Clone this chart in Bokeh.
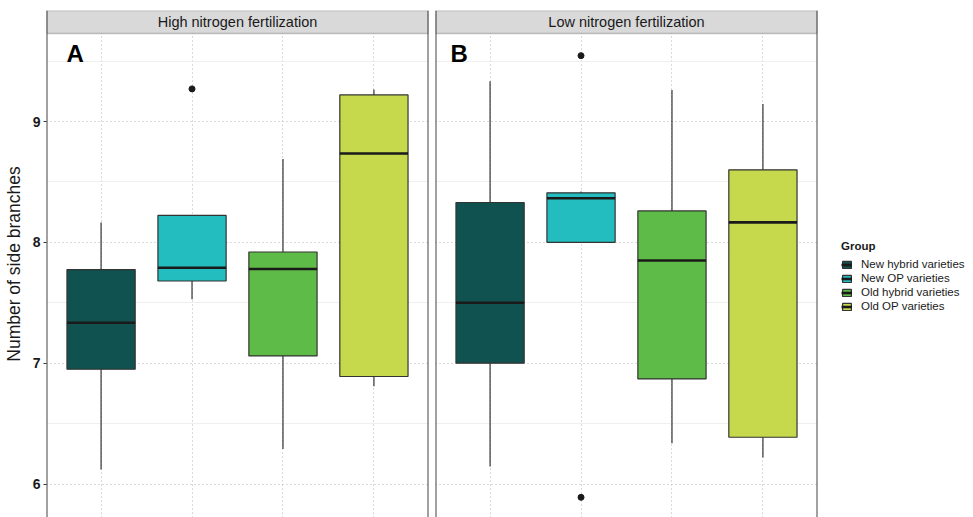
from bokeh.plotting import figure
from bokeh.models import (Range1d, FactorRange, FixedTicker, BoxAnnotation, Label,
                          Legend, LegendItem, ColumnDataSource, Span)
from bokeh.transform import dodge
from bokeh.layouts import row
from bokeh.embed import file_html
from bokeh.resources import INLINE

# ---------------- data ----------------
groups = ["New hybrid varieties", "New OP varieties", "Old hybrid varieties", "Old OP varieties"]
colors = ["#10524F", "#23BDBF", "#5FBB47", "#C6D94C"]

# High nitrogen fertilization (panel A)
high_lo = [6.12, 7.53, 6.29, 6.81]
high_q1 = [6.95, 7.68, 7.06, 6.89]
high_med = [7.335, 7.79, 7.78, 8.735]
high_q3 = [7.775, 8.223, 7.92, 9.22]
high_hi = [8.165, 8.223, 8.69, 9.265]
high_out_group = ["New OP varieties"]
high_out_val = [9.27]

# Low nitrogen fertilization (panel B)
low_lo = [6.145, 8.0, 6.337, 6.22]
low_q1 = [7.0, 8.0, 6.87, 6.387]
low_med = [7.50, 8.365, 7.85, 8.165]
low_q3 = [8.33, 8.41, 8.26, 8.60]
low_hi = [9.333, 8.42, 9.26, 9.145]
low_out_group = ["New OP varieties", "New OP varieties"]
low_out_val = [9.545, 5.89]

y_ticks = [6, 7, 8, 9]
y_minor = [5.5, 6.5, 7.5, 8.5, 9.5]

FONT = "Liberation Sans"
Y_START, Y_END = 5.723, 9.9187
STRIP_BOTTOM = 9.728
BOX_W = 0.75
PAD = 0.1
BORDER = "#444444"


def make_panel(title, letter, letter_x, lo, q1, med, q3, hi, out_g, out_v, first):
    p = figure(
        x_range=FactorRange(factors=groups, range_padding=PAD, range_padding_units="absolute"),
        y_range=Range1d(Y_START, Y_END),
        frame_width=382, frame_height=507,
        output_backend="svg", toolbar_location=None,
        min_border_left=40 if first else 5,
        min_border_right=2 if first else 146,
        min_border_top=10, min_border_bottom=0,
        background_fill_color="white", border_fill_color="white",
    )
    p.outline_line_color = None

    # grids
    p.xaxis.visible = False
    p.xgrid.grid_line_color = "#B5B5B5"
    p.xgrid.grid_line_dash = "1 3"
    p.xgrid.grid_line_width = 1
    p.yaxis.ticker = FixedTicker(ticks=y_ticks, minor_ticks=y_minor)
    p.ygrid.grid_line_color = "#B5B5B5"
    p.ygrid.grid_line_dash = "1 3"
    p.ygrid.grid_line_width = 1
    p.ygrid.minor_grid_line_color = "#EFEFEF"
    p.ygrid.minor_grid_line_width = 1

    if first:
        ax = p.yaxis[0]
        ax.axis_line_color = None
        ax.major_tick_out = 3
        ax.major_tick_in = 0
        ax.major_tick_line_color = "#333333"
        ax.minor_tick_out = 0
        ax.minor_tick_in = 0
        ax.major_label_text_font = FONT
        ax.major_label_text_font_size = "14px"
        ax.major_label_text_font_style = "bold"
        ax.major_label_text_color = "#1A1A1A"
        ax.major_label_standoff = 3
        ax.axis_label = "Number of side branches"
        ax.axis_label_text_font = FONT
        ax.axis_label_text_font_size = "17.5px"
        ax.axis_label_text_font_style = "normal"
        ax.axis_label_text_color = "#1A1A1A"
        ax.axis_label_standoff = 6
    else:
        p.yaxis.visible = False

    src = ColumnDataSource(dict(g=groups, lo=lo, q1=q1, med=med, q3=q3, hi=hi, color=colors))

    # whiskers
    p.segment(x0="g", y0="q3", x1="g", y1="hi", source=src, line_color="#333333", line_width=1.2)
    p.segment(x0="g", y0="lo", x1="g", y1="q1", source=src, line_color="#333333", line_width=1.2)
    # boxes
    box_r = p.vbar(x="g", width=BOX_W, bottom="q1", top="q3", source=src,
                   fill_color="color", line_color="#333333", line_width=1.2)
    # medians
    med_r = p.segment(x0=dodge("g", -BOX_W / 2, range=p.x_range), y0="med",
                      x1=dodge("g", BOX_W / 2, range=p.x_range), y1="med",
                      source=src, line_color="#1A1A1A", line_width=2.6)
    # outliers
    p.scatter(x=out_g, y=out_v, size=6, color="#1A1A1A")

    # strip
    p.add_layout(BoxAnnotation(bottom=STRIP_BOTTOM, fill_color="#D9D9D9", fill_alpha=1,
                               line_color=BORDER, line_width=1.6, level="underlay"))
    p.add_layout(Label(x=len(groups) / 2, y=(STRIP_BOTTOM + Y_END) / 2, text=title,
                       text_font=FONT, text_font_size="14.5px", text_color="#1A1A1A",
                       text_align="center", text_baseline="middle"))
    # panel border (left / right; the bottom is cut off in the original)
    p.add_layout(Span(location=-PAD, dimension="height", line_color=BORDER, line_width=2))
    p.add_layout(Span(location=len(groups) + PAD, dimension="height", line_color=BORDER, line_width=2))
    # panel letter
    p.add_layout(Label(x=letter_x, y=9.565, text=letter, text_font=FONT,
                       text_font_size="24px", text_font_style="bold", text_color="black",
                       text_align="left", text_baseline="middle"))
    return p, box_r, med_r


p1, _, _ = make_panel("High nitrogen fertilization", "A", 0.12,
                      high_lo, high_q1, high_med, high_q3, high_hi,
                      high_out_group, high_out_val, True)
p2, box_r, med_r = make_panel("Low nitrogen fertilization", "B", 0.065,
                              low_lo, low_q1, low_med, low_q3, low_hi,
                              low_out_group, low_out_val, False)

items = [LegendItem(label=g, renderers=[box_r, med_r], index=i) for i, g in enumerate(groups)]
legend = Legend(items=items, location=(24, 205), title="Group",
                title_text_font=FONT, title_text_font_size="11.5px", title_text_font_style="bold",
                title_text_color="#1A1A1A", title_standoff=6,
                label_text_font=FONT, label_text_font_size="11.5px", label_text_color="#1A1A1A",
                glyph_width=11, glyph_height=9, label_height=12, label_standoff=9,
                spacing=2, padding=0, margin=0,
                border_line_color=None, background_fill_alpha=0)
p2.add_layout(legend, "right")

layout = row(p1, p2)
open("out.html", "w").write(file_html(layout, INLINE))
